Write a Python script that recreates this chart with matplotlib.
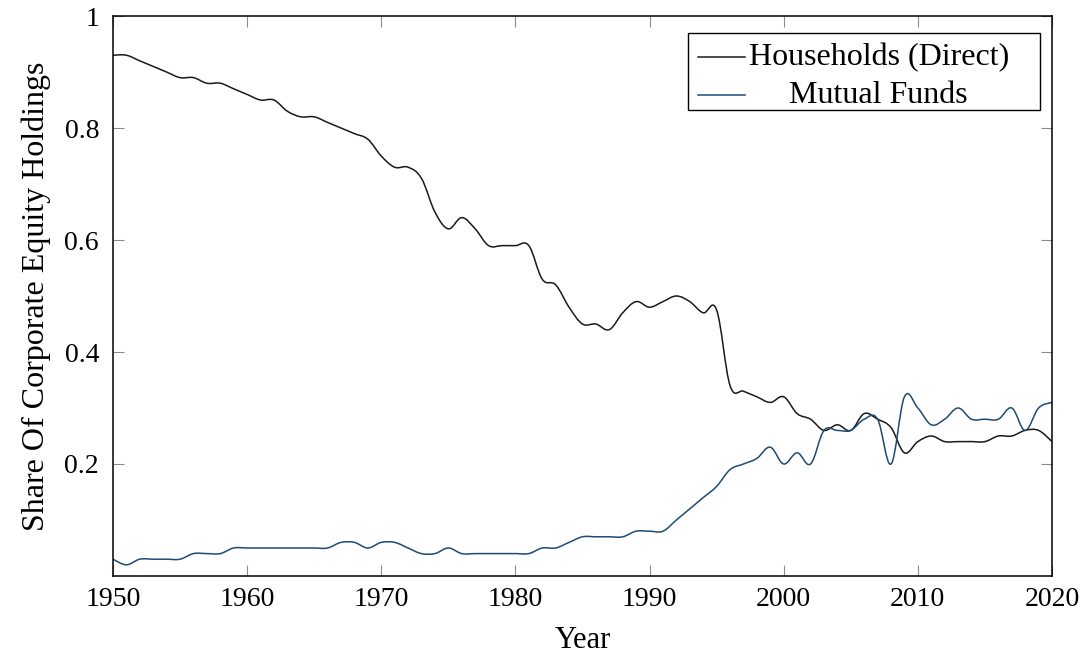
import numpy as np
import matplotlib
matplotlib.use("Agg")
from matplotlib import pyplot as plt
from matplotlib.path import Path
from matplotlib.patches import PathPatch, Rectangle
from matplotlib.lines import Line2D

plt.rcParams['font.family'] = ['Liberation Serif', 'DejaVu Serif']

years = list(range(1950, 2021))

households = [0.93, 0.93, 0.92, 0.91, 0.90, 0.89, 0.89, 0.88, 0.88, 0.87,
              0.86, 0.85, 0.85, 0.83, 0.82, 0.82, 0.81, 0.80, 0.79, 0.78,
              0.75, 0.73, 0.73, 0.71, 0.65, 0.62, 0.64, 0.62, 0.59, 0.59,
              0.59, 0.59, 0.53, 0.52, 0.48, 0.45, 0.45, 0.44, 0.47, 0.49,
              0.48, 0.49, 0.50, 0.49, 0.47, 0.475, 0.34, 0.33, 0.32, 0.31,
              0.32, 0.29, 0.28, 0.26, 0.27, 0.26, 0.29, 0.28, 0.265, 0.22,
              0.24, 0.25, 0.24, 0.24, 0.24, 0.24, 0.25, 0.25, 0.26, 0.26,
              0.24]

mutual_funds = [0.03, 0.02, 0.03, 0.03, 0.03, 0.03, 0.04, 0.04, 0.04, 0.05,
                0.05, 0.05, 0.05, 0.05, 0.05, 0.05, 0.05, 0.06, 0.06, 0.05,
                0.06, 0.06, 0.05, 0.04, 0.04, 0.05, 0.04, 0.04, 0.04, 0.04,
                0.04, 0.04, 0.05, 0.05, 0.06, 0.07, 0.07, 0.07, 0.07, 0.08,
                0.08, 0.08, 0.10, 0.12, 0.14, 0.16, 0.19, 0.20, 0.21, 0.23,
                0.20, 0.22, 0.20, 0.26, 0.26, 0.26, 0.28, 0.28, 0.20, 0.32,
                0.30, 0.27, 0.28, 0.30, 0.28, 0.28, 0.28, 0.30, 0.26, 0.30,
                0.31]

labels = ["Households (Direct)", "Mutual Funds"]
colors = ["#1a1a1a", "#1d4b74"]


def smooth_path(x, y, tension=0.18):
    # pgfplots-like "smooth": cubic bezier through the points
    x = np.asarray(x, float)
    y = np.asarray(y, float)
    n = len(x)
    verts = [(x[0], y[0])]
    codes = [Path.MOVETO]
    for i in range(n - 1):
        i0 = max(i - 1, 0)
        i2 = min(i + 2, n - 1)
        c1 = (x[i] + tension * (x[i + 1] - x[i0]), y[i] + tension * (y[i + 1] - y[i0]))
        c2 = (x[i + 1] - tension * (x[i2] - x[i]), y[i + 1] - tension * (y[i2] - y[i]))
        verts += [c1, c2, (x[i + 1], y[i + 1])]
        codes += [Path.CURVE4] * 3
    return Path(verts, codes)


fig = plt.figure(figsize=(10.86, 6.57), dpi=100)
ax = fig.add_axes([0.104, 0.1233, 0.8647, 0.8523])

for data, c in zip([households, mutual_funds], colors):
    ax.add_patch(PathPatch(smooth_path(years, data), facecolor="none",
                           edgecolor=c, lw=1.1))

ax.set_xlim(1950, 2020)
ax.set_ylim(0, 1)
ax.set_xticks(range(1950, 2021, 10))
ax.set_yticks([0.2, 0.4, 0.6, 0.8, 1.0])
ax.set_yticklabels(["0.2", "0.4", "0.6", "0.8", "1"])
ax.tick_params(direction="in", length=8, width=0.8, color="#8c8c8c",
               labelsize=20, top=True, right=True)
ax.tick_params(axis="x", pad=8)
ax.tick_params(axis="y", pad=10)
for s in ax.spines.values():
    s.set_linewidth(1.1)

ax.set_xlabel("Year", fontsize=22, labelpad=10)
ax.set_ylabel("Share Of Corporate Equity Holdings", fontsize=23, labelpad=10)

# legend drawn like pgfplots (text centred in its column)
ax.add_patch(Rectangle((0.612, 0.832), 0.375, 0.138, transform=ax.transAxes,
                       facecolor="white", edgecolor="black", lw=1.0, zorder=5))
for k, (lab, c) in enumerate(zip(labels, colors)):
    yy = 0.926 - k * 0.0675
    ax.add_line(Line2D([0.623, 0.673], [yy, yy], transform=ax.transAxes,
                       color=c, lw=1.1, zorder=6))
    ax.text(0.8155, yy, lab, transform=ax.transAxes, ha="center", va="center",
            fontsize=23, zorder=6)

fig.savefig("out.png", dpi=100)
